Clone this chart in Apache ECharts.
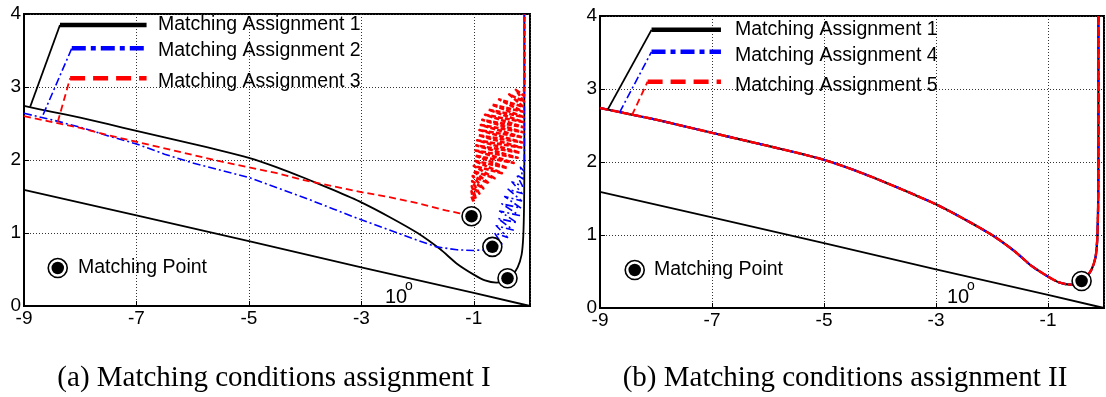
<!DOCTYPE html>
<html><head><meta charset="utf-8">
<script src="https://cdn.jsdelivr.net/npm/echarts@6/dist/echarts.min.js"></script>
<style>html,body{margin:0;padding:0;background:#fff}#c{width:1106px;height:397px}</style>
</head><body><div id="c"></div>
<script>
// ---- data ----
const xTicks = [-9, -7, -5, -3, -1];
const yTicks = [0, 1, 2, 3, 4];
// Matching Assignment 1 (same curve in both panels)
const curve1 = [[-9,2.74],[-8.5,2.66],[-8,2.58],[-7.5,2.49],[-7,2.40],[-6.5,2.31],[-6,2.22],[-5.5,2.13],[-5,2.03],[-4.5,1.90],[-4,1.75],[-3.5,1.59],[-3,1.42],[-2.5,1.22],[-2,1.00],[-1.6,0.78],[-1.3,0.58],[-1.0,0.43],[-0.8,0.35],[-0.6,0.32],[-0.45,0.34],[-0.32,0.42],[-0.22,0.53],[-0.15,0.70],[-0.12,0.95],[-0.105,1.4],[-0.1,2.0],[-0.1,4.0]];
// Matching Assignment 2 (left panel)
const curve2 = [[-9,2.64],[-8.5,2.55],[-8,2.45],[-7.5,2.33],[-7,2.22],[-6.5,2.08],[-6,1.96],[-5.5,1.86],[-5,1.76],[-4.5,1.62],[-4,1.48],[-3.5,1.33],[-3,1.18],[-2.5,1.04],[-2,0.90],[-1.66,0.81],[-1.3,0.77],[-1.0,0.76],[-0.8,0.77],[-0.67,0.81]];
const curve2Osc = [[-0.66,0.90],[-0.50,0.85],[-0.63,1.00],[-0.40,0.94],[-0.60,1.10],[-0.30,1.04],[-0.57,1.20],[-0.23,1.14],[-0.54,1.30],[-0.19,1.24],[-0.50,1.40],[-0.16,1.34],[-0.45,1.50],[-0.15,1.44],[-0.39,1.60],[-0.14,1.54],[-0.32,1.70],[-0.13,1.64],[-0.24,1.80],[-0.12,1.74],[-0.17,1.90],[-0.11,1.85],[-0.10,2.0],[-0.10,4.0]];
// Matching Assignment 3 (left panel)
const curve3 = [[-9,2.60],[-8.5,2.52],[-8,2.44],[-7.5,2.34],[-7,2.25],[-6.5,2.16],[-6,2.07],[-5.5,1.98],[-5,1.90],[-4.5,1.82],[-4,1.72],[-3.5,1.64],[-3,1.56],[-2.5,1.49],[-2,1.41],[-1.5,1.31],[-1.25,1.27],[-1.04,1.23]];
const curve3Osc = [[-1.04,1.50],[-1.00,1.42],[-1.04,1.57],[-0.96,1.47],[-1.035,1.64],[-0.90,1.54],[-1.03,1.71],[-0.83,1.61],[-1.02,1.78],[-0.73,1.68],[-1.01,1.85],[-0.63,1.75],[-1.00,1.92],[-0.50,1.82],[-0.99,1.99],[-0.40,1.89],[-0.98,2.06],[-0.29,1.96],[-0.97,2.13],[-0.22,2.03],[-0.955,2.20],[-0.18,2.10],[-0.94,2.27],[-0.155,2.17],[-0.92,2.34],[-0.14,2.24],[-0.90,2.41],[-0.13,2.31],[-0.875,2.48],[-0.12,2.38],[-0.85,2.55],[-0.12,2.45],[-0.80,2.62],[-0.12,2.52],[-0.74,2.69],[-0.12,2.59],[-0.68,2.76],[-0.12,2.66],[-0.55,2.83],[-0.12,2.73],[-0.37,2.90],[-0.11,2.80],[-0.25,2.96],[-0.11,2.88],[-0.10,3.05],[-0.10,4.0]];
// 10 degree line
const tenDegLine = [[-9,1.59],[-7,1.24],[-5,0.89],[-3,0.53],[-1,0.18],[0,0]];
// matching points
const matchLeft = [[-1.04,1.23],[-0.67,0.81],[-0.40,0.38]];
const matchRight = [[-0.40,0.37]];
const matchLegendLeft = [[-8.40,0.52]];
const matchLegendRight = [[-8.38,0.52]];
// legend leader lines (diagonal + bar)
const leadLeft = {
  k: [[[-8.89,2.73],[-8.36,3.85]], [[-8.36,3.85],[-6.82,3.85]]],
  b: [[[-8.66,2.62],[-8.15,3.53]], [[-8.15,3.53],[-6.82,3.53]]],
  r: [[[-8.40,2.52],[-8.18,3.12]], [[-8.18,3.12],[-6.82,3.12]]]
};
const leadRight = {
  k: [[[-8.86,2.72],[-8.08,3.81]], [[-8.08,3.81],[-6.84,3.81]]],
  b: [[[-8.65,2.68],[-8.08,3.51]], [[-8.08,3.51],[-6.84,3.51]]],
  r: [[[-8.43,2.64],[-8.15,3.10]], [[-8.15,3.10],[-6.84,3.10]]]
};
const legendLeft = ['Matching Assignment 1','Matching Assignment 2','Matching Assignment 3'];
const legendRight = ['Matching Assignment 1','Matching Assignment 4','Matching Assignment 5'];
const captions = ['(a) Matching conditions assignment I','(b) Matching conditions assignment II'];

// ---- styles ----
const SANS = 'Liberation Sans, Arial, sans-serif';
const SERIF = 'Liberation Serif, Times New Roman, serif';
const K = '#000', B = '#0000ff', R = '#ff0000';
const dashDot = [8,3,2,3], dashed = [7,4];
const dashDotThick = [14,5,5,5], dashedThick = [15,8];

const chart = echarts.init(document.getElementById('c'), null, {renderer:'canvas'});

function line(gi, data, color, width, type, z, smooth) {
  return {type:'line', xAxisIndex:gi, yAxisIndex:gi, data, showSymbol:false, symbol:'none', smooth: smooth || false,
    lineStyle:{color, width, type: type || 'solid', cap:'butt', join:'round'}, z: z||2, silent:true, clip:true};
}
function mp(gi, data) {
  return [
    {type:'scatter', xAxisIndex:gi, yAxisIndex:gi, data, symbolSize:19, itemStyle:{color:'#fff', borderColor:'#000', borderWidth:1.6, opacity:1}, z:10, silent:true},
    {type:'scatter', xAxisIndex:gi, yAxisIndex:gi, data, symbolSize:12.5, itemStyle:{color:'#000', opacity:1}, z:11, silent:true}
  ];
}
function leaders(gi, L) {
  return [
    line(gi, L.k[0], K, 1.8), line(gi, L.k[1], K, 4.5),
    line(gi, L.b[0], B, 1.6, dashDot), line(gi, L.b[1], B, 4.5, dashDotThick),
    line(gi, L.r[0], R, 1.8, dashed), line(gi, L.r[1], R, 4.5, dashedThick)
  ];
}
function xAx(gi) {
  return {gridIndex:gi, type:'value', min:-9, max:0, interval:2,
    axisLine:{show:true, onZero:false, lineStyle:{color:K, width:2}},
    axisTick:{show:true, inside:true, length:5, lineStyle:{color:K}},
    axisLabel:{showMaxLabel:false, color:K, fontSize:19, fontFamily:SANS, margin:3},
    splitLine:{show:true, lineStyle:{type:[1,2], color:'#333', width:1}}};
}
function yAx(gi) {
  return {gridIndex:gi, type:'value', min:0, max:4, interval:1,
    axisLine:{show:true, onZero:false, lineStyle:{color:K, width:2}},
    axisTick:{show:true, inside:true, length:5, lineStyle:{color:K}},
    axisLabel:{color:K, fontSize:19, fontFamily:SANS, margin:3},
    splitLine:{show:true, lineStyle:{type:[1,2], color:'#333', width:1}}};
}

const series = [
  // left panel
  line(0, tenDegLine, K, 1.8),
  line(0, curve1, K, 1.8, null, 2, 0.2),
  line(0, curve2.concat(curve2Osc), B, 1.6, dashDot),
  line(0, curve3, R, 1.8, dashed),
  line(0, curve3Osc, R, 2.6, [5,2]),
  ...leaders(0, leadLeft),
  ...mp(0, matchLeft),
  ...mp(0, matchLegendLeft),
  // right panel
  line(1, tenDegLine, K, 1.8),
  line(1, curve1, K, 2.2, null, 2, 0.2),
  line(1, curve1, B, 2.2, dashDot, 2, 0.2),
  line(1, curve1, R, 2.4, [9,2], 2, 0.2),
  ...leaders(1, leadRight),
  ...mp(1, matchRight),
  ...mp(1, matchLegendRight)
];

function txt(x, y, text, size, font, align) {
  return {type:'text', x, y, z:100, style:{text, fill:'#000', font: size+'px '+font, textAlign: align||'left', textVerticalAlign:'middle'}};
}
const graphics = [
  txt(158, 25, legendLeft[0], 19.5, SANS), txt(158, 51, legendLeft[1], 19.5, SANS), txt(158, 82, legendLeft[2], 19.5, SANS),
  txt(735, 30, legendRight[0], 19.5, SANS), txt(735, 56, legendRight[1], 19.5, SANS), txt(735, 86, legendRight[2], 19.5, SANS),
  txt(78, 268, 'Matching Point', 19.5, SANS), txt(654, 270, 'Matching Point', 19.5, SANS),
  txt(385, 297, '10', 20, SANS), txt(405, 286, 'o', 14, SANS),
  txt(947, 297, '10', 20, SANS), txt(967, 286, 'o', 14, SANS),
  txt(274, 378, captions[0], 29, SERIF, 'center'), txt(845, 378, captions[1], 29, SERIF, 'center')
];

chart.setOption({
  animation:false,
  backgroundColor:'#fff',
  grid:[
    {left:24, top:14, width:506, height:292, show:true, borderColor:K, borderWidth:2, backgroundColor:'transparent', containLabel:false},
    {left:600, top:16, width:504, height:292, show:true, borderColor:K, borderWidth:2, backgroundColor:'transparent', containLabel:false}
  ],
  xAxis:[xAx(0), xAx(1)],
  yAxis:[yAx(0), yAx(1)],
  series,
  graphic: graphics
});
</script></body></html>
